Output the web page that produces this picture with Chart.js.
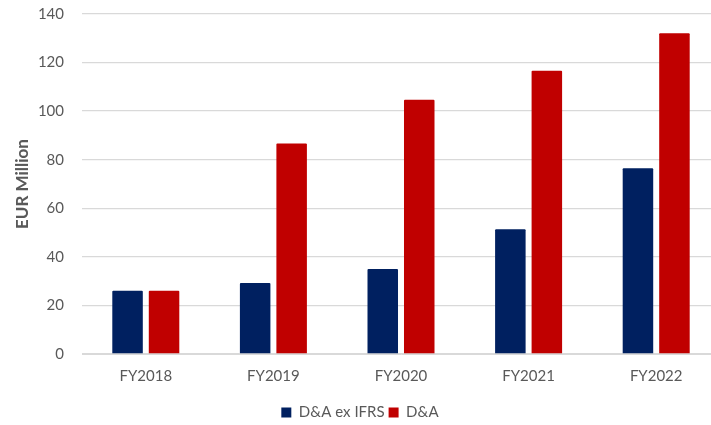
<!DOCTYPE html>
<html>
<head>
<meta charset="utf-8">
<script src="https://cdn.jsdelivr.net/npm/chart.js@4/dist/chart.umd.min.js"></script>
<style>
    html, body { margin: 0; padding: 0; background: #fff; overflow: hidden; }
    #wrap { position: relative; width: 730px; height: 425px; }
</style>
</head>
<body>
<div id="wrap"><canvas id="mainChart"></canvas></div>
<script>
var years = ['FY2018', 'FY2019', 'FY2020', 'FY2021', 'FY2022'];
var daExIfrs = [26, 29.2, 35, 51.4, 76.5];
var daTotal = [26, 86.7, 104.7, 116.6, 132.1];
var yTicks = [0, 20, 40, 60, 80, 100, 120, 140];

var textGrey = '#595959';
var fontFamily = 'Lato, "Open Sans", sans-serif';

var chartContainer = document.getElementById('mainChart');
var chartOptions = {
    type: 'bar',
    data: {
        labels: years,
        datasets: [
            {
                label: 'D&A ex IFRS',
                data: daExIfrs,
                backgroundColor: '#002060',
                borderRadius: 1
            },
            {
                label: 'D&A',
                data: daTotal,
                backgroundColor: '#C00000',
                borderRadius: 1
            }
        ]
    },
    options: {
        responsive: true,
        maintainAspectRatio: false,
        animation: false,
        layout: {
            padding: { top: 14, right: 10, bottom: -5, left: 0 }
        },
        datasets: {
            bar: {
                categoryPercentage: 0.572,
                barPercentage: 0.836
            }
        },
        scales: {
            x: {
                grid: { display: false, drawTicks: false },
                border: { display: true, color: '#D9D9D9' },
                ticks: {
                    color: textGrey,
                    font: { family: fontFamily, size: 15 },
                    padding: 13
                },
                afterFit: function(axis) {
                    axis.height += 3;
                }
            },
            y: {
                min: 0,
                max: 140,
                afterBuildTicks: function(axis) {
                    axis.ticks = yTicks.map(function(v) { return { value: v }; });
                },
                afterFit: function(axis) {
                    // fixed axis width, no extra room above the top tick
                    axis.width = 82;
                    axis.paddingTop = 0;
                    axis.paddingBottom = 0;
                },
                grid: {
                    color: '#D9D9D9',
                    lineWidth: 1.3,
                    drawTicks: false
                },
                border: { display: false },
                ticks: {
                    color: textGrey,
                    font: { family: fontFamily, size: 15 },
                    padding: 18
                },
                title: {
                    display: true,
                    text: 'EUR Million',
                    color: textGrey,
                    font: { family: fontFamily, size: 17, weight: 'bold' },
                    padding: { top: 12, bottom: 0 }
                }
            }
        },
        plugins: {
            legend: {
                position: 'bottom',
                labels: {
                    color: textGrey,
                    font: { family: fontFamily, size: 15 },
                    boxWidth: 10,
                    boxHeight: 10,
                    padding: 4
                }
            },
            tooltip: { enabled: false }
        }
    }
};
var mainChart = new Chart(chartContainer, chartOptions);
</script>
</body>
</html>
